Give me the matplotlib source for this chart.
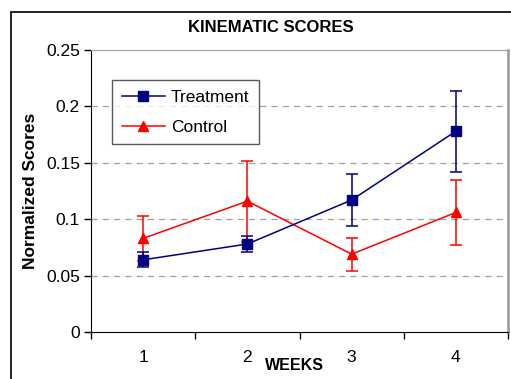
import matplotlib
matplotlib.use("Agg")
import matplotlib.pyplot as plt
from matplotlib.patches import Rectangle
from matplotlib.lines import Line2D

plt.rcParams["font.family"] = ["Liberation Sans", "DejaVu Sans"]

weeks = ["1", "2", "3", "4"]
treatment = [0.064, 0.078, 0.117, 0.178]
treatment_err = [0.0065, 0.0075, 0.023, 0.036]
control = [0.083, 0.116, 0.069, 0.106]
control_err = [0.020, 0.036, 0.0145, 0.029]

NAVY = "#000080"
RED = "#ff0000"

W, H = 511, 379
fig = plt.figure(figsize=(W / 100, H / 100), dpi=100)
ax = fig.add_axes([91 / W, 1 - 332 / H, (508 - 91) / W, (332 - 50) / H])

# outer chart border (only left/top visible in the original)
fig.patches.append(Rectangle((11 / W, -0.1), 1.2, 1 - 12 / H + 0.1,
                             transform=fig.transFigure, fill=False,
                             edgecolor="black", linewidth=1.2))

x = [i + 0.5 for i in range(len(weeks))]

ax.errorbar(x, treatment, yerr=treatment_err, color=NAVY, marker="s",
            markersize=6.5, linewidth=1.1, capsize=4.5, elinewidth=1.1,
            capthick=1.1, zorder=3)
ax.errorbar(x, control, yerr=control_err, color=RED, marker="^",
            markersize=7.5, linewidth=1.1, capsize=4.5, elinewidth=1.1,
            capthick=1.1, zorder=2)

ax.set_xlim(0, 4)
ax.set_ylim(0, 0.25)
ax.set_yticks([0, 0.05, 0.1, 0.15, 0.2, 0.25])
ax.set_yticklabels(["0", "0.05", "0.1", "0.15", "0.2", "0.25"], fontsize=12.5)
ax.set_xticks([0, 1, 2, 3, 4])
ax.set_xticklabels([])
ax.set_xticks(x, minor=True)
ax.set_xticklabels(weeks, minor=True, fontsize=12.5)
ax.tick_params(axis="x", which="minor", length=0, pad=13)
ax.tick_params(axis="x", which="major", direction="out", length=5, width=1)
ax.tick_params(axis="y", direction="out", length=5, width=1, pad=3)

for yv in [0.05, 0.1, 0.15, 0.2]:
    ax.axhline(yv, color="#a0a0a0", linestyle=(0, (5, 4)), linewidth=0.9, zorder=1)

ax.spines["left"].set_color("black")
ax.spines["bottom"].set_color("black")
ax.spines["top"].set_color("#a0a0a0")
ax.spines["right"].set_color("#a0a0a0")
ax.spines["right"].set_linewidth(2)

ax.set_ylabel("Normalized Scores", fontsize=12.5, fontweight="bold", labelpad=6)
fig.text(294 / W, 1 - 366 / H, "WEEKS", fontsize=11.5, fontweight="bold",
         ha="center", va="center")
fig.text(271 / W, 1 - 27 / H, "KINEMATIC SCORES", fontsize=12,
         fontweight="bold", ha="center", va="center")

handles = [
    Line2D([], [], color=NAVY, marker="s", markersize=6.5, linewidth=1.1),
    Line2D([], [], color=RED, marker="^", markersize=7.5, linewidth=1.1),
]
leg = ax.legend(handles, ["Treatment", "Control"], loc="upper left",
                bbox_to_anchor=((112 - 91) / (508 - 91), 1 - 30 / 282),
                fontsize=12.5, frameon=True, fancybox=False, borderpad=0.55,
                handlelength=2.5, handletextpad=0.35, labelspacing=0.85,
                borderaxespad=0)
leg.get_frame().set_edgecolor("#303030")
leg.get_frame().set_linewidth(1)

fig.savefig("out.png", dpi=100)
